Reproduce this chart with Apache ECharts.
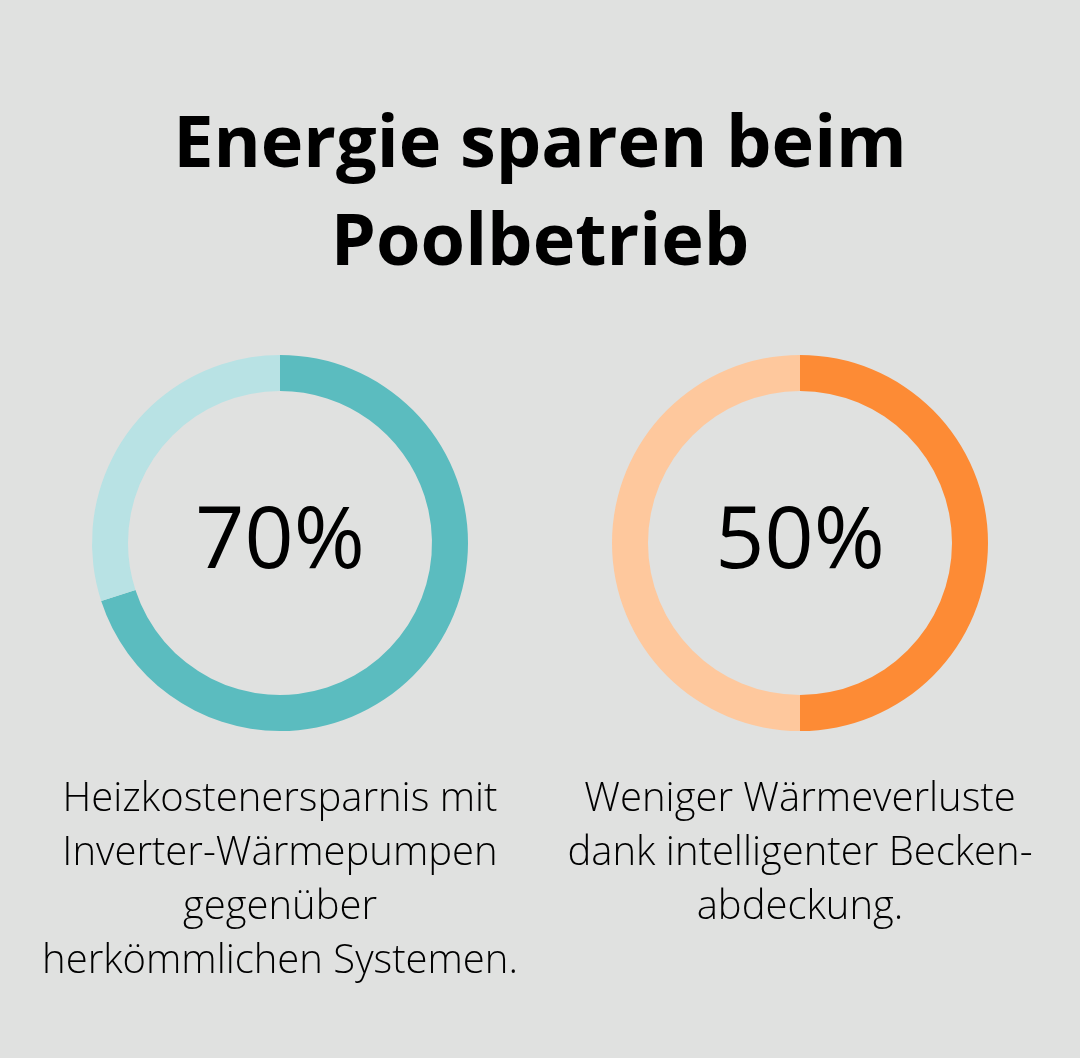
<!DOCTYPE html>
<html>
<head>
<meta charset="utf-8">
<script src="https://cdn.jsdelivr.net/npm/echarts@6/dist/echarts.min.js"></script>
<style>
  html, body { margin: 0; padding: 0; background: #e0e1e0; }
  #chart { width: 1080px; height: 1058px; }
</style>
</head>
<body>
<div id="chart"></div>
<script>
// Kennzahlen
const titleText = 'Energie sparen beim\nPoolbetrieb';
const percentValues = [70, 50];
const percentLabels = ['70%', '50%'];
const descriptions = [
  'Heizkostenersparnis mit\nInverter-Wärmepumpen\ngegenüber\nherkömmlichen Systemen.',
  'Weniger Wärmeverluste\ndank intelligenter Becken-\nabdeckung.'
];
const mainColors = ['#5bbcbf', '#fd8b35'];
const restColors = ['#b8e2e4', '#fec89d'];
const centersX = [280, 800];

const chart = echarts.init(document.getElementById('chart'));

const series = percentValues.map((v, i) => ({
  type: 'pie',
  radius: [152, 188],
  center: [centersX[i], 543],
  startAngle: 90,
  clockwise: true,
  silent: true,
  labelLine: { show: false },
  data: [
    {
      value: v,
      itemStyle: { color: mainColors[i] },
      label: {
        show: true,
        position: 'center',
        formatter: percentLabels[i],
        fontFamily: 'Open Sans',
        fontSize: 86,
        fontWeight: 500,
        color: '#000000'
      }
    },
    {
      value: 100 - v,
      itemStyle: { color: restColors[i] },
      label: { show: false }
    }
  ]
}));

const descGraphics = descriptions.map((d, i) => ({
  type: 'text',
  x: centersX[i],
  y: 773,
  style: {
    text: d,
    align: 'center',
    verticalAlign: 'top',
    fontFamily: 'Open Sans',
    fontSize: 40,
    fontWeight: 300,
    lineHeight: 54,
    fill: '#000000'
  }
}));

chart.setOption({
  backgroundColor: '#e0e1e0',
  animation: false,
  title: {
    text: titleText,
    left: 'center',
    top: 92,
    textStyle: {
      fontFamily: 'Open Sans',
      fontSize: 72,
      fontWeight: 700,
      lineHeight: 98,
      color: '#000000'
    }
  },
  series: series,
  graphic: descGraphics
});
</script>
</body>
</html>
